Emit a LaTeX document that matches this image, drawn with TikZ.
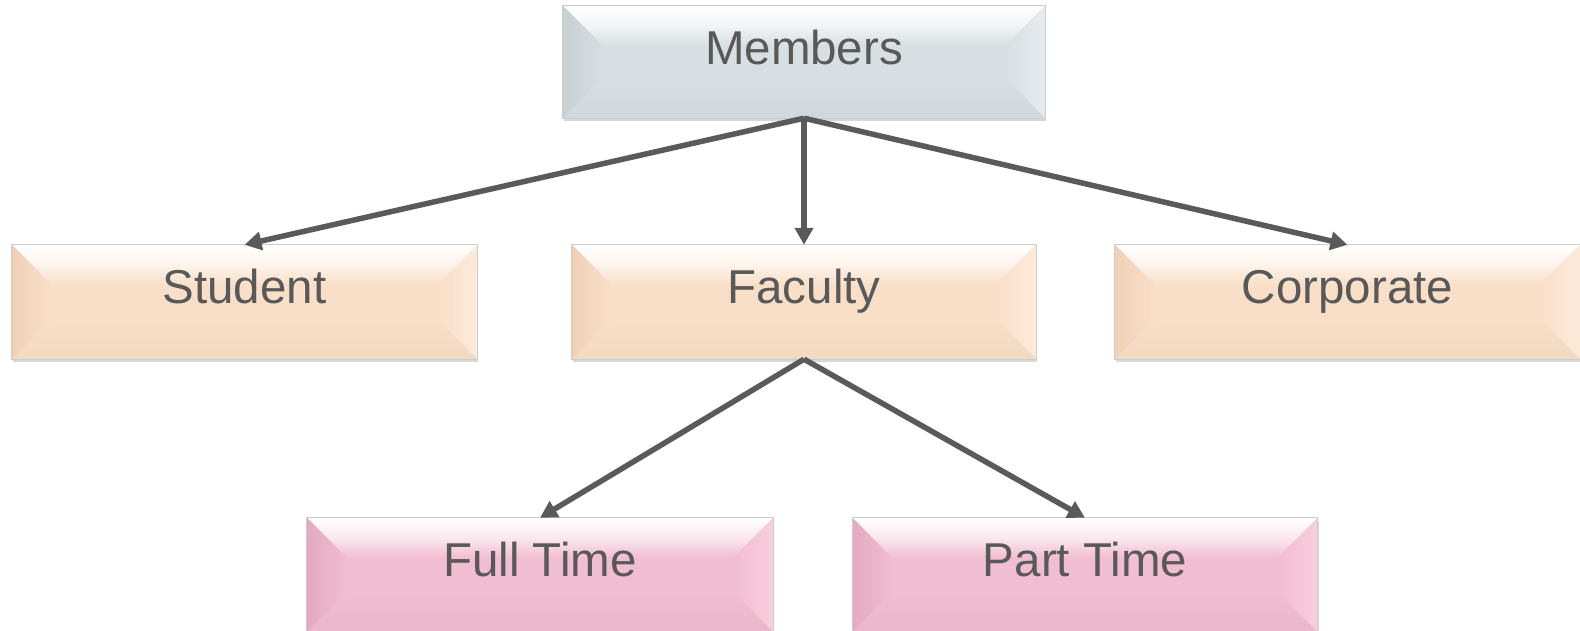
\documentclass[tikz,border=0pt]{standalone}
\usepackage{fontspec}
\setmainfont{Liberation Sans}
\usetikzlibrary{arrows.meta,shadows,calc}
\definecolor{txt}{HTML}{595959}
\definecolor{arr}{HTML}{5A5A5A}
\definecolor{mbase}{HTML}{D7DFE2}
\definecolor{mdark}{HTML}{C6CFD2}
\definecolor{mlight}{HTML}{E6ECEE}
\definecolor{pbase}{HTML}{F9DFC8}
\definecolor{pdark}{HTML}{F0D0B7}
\definecolor{plight}{HTML}{FDEAD9}
\definecolor{kbase}{HTML}{F1BDD0}
\definecolor{kdark}{HTML}{E4AABF}
\definecolor{klight}{HTML}{F8CEDD}
\tikzset{
  x=1pt, y=-1pt,
  boxshape/.style={rectangle, inner sep=0pt, draw=none,
    drop shadow={shadow xshift=1pt, shadow yshift=-3pt, opacity=0.3}},
  lbl/.style={text=txt, font=\fontsize{47.5}{57}\selectfont, inner sep=0pt},
  conn/.style={draw=arr, line width=5.5pt, -{Triangle[length=17pt,width=18pt]}},
  rim/.style={draw=black!20, line width=1.2pt}
}
\newcommand\bevelbox[9]{%
  \node[boxshape, fill=#6, minimum width=#4pt, minimum height=#5pt] (#1) at (#2,#3) {};
  \def\bv{40}
  \shade[top color=white, bottom color=#6, middle color=#6!35!white]
    (#1.north west) -- (#1.north east) -- ([shift={(-\bv pt,-\bv pt)}]#1.north east) -- ([shift={(\bv pt,-\bv pt)}]#1.north west) -- cycle;
  \shade[left color=#7, right color=#6]
    (#1.north west) -- ([shift={(\bv pt,-\bv pt)}]#1.north west) -- ([shift={(\bv pt,\bv pt)}]#1.south west) -- (#1.south west) -- cycle;
  \shade[left color=#6, right color=#8]
    (#1.north east) -- ([shift={(-\bv pt,-\bv pt)}]#1.north east) -- ([shift={(-\bv pt,\bv pt)}]#1.south east) -- (#1.south east) -- cycle;
  \shade[top color=#6, bottom color=#6!97!black]
    (#1.south west) -- ([shift={(\bv pt,\bv pt)}]#1.south west) -- ([shift={(-\bv pt,\bv pt)}]#1.south east) -- (#1.south east) -- cycle;
  \draw[rim] (#1.north west) rectangle (#1.south east);
  \node[lbl, anchor=base] (#1t) at ([yshift=-58.5pt]#1.north) {#9};
}
\begin{document}
\begin{tikzpicture}
\clip (0,0) rectangle (1580,631);
\fill[white] (0,0) rectangle (1580,631);
\bevelbox{m}{804}{62}{482}{112}{mbase}{mdark}{mlight}{Members}
\bevelbox{s}{244.5}{302}{465}{114}{pbase}{pdark}{plight}{Student}
\bevelbox{f}{804}{302}{464}{114}{pbase}{pdark}{plight}{Faculty}
\bevelbox{c}{1347.5}{302}{465}{114}{pbase}{pdark}{plight}{Corporate}
\bevelbox{ft}{540}{575}{466}{114}{kbase}{kdark}{klight}{Full Time}
\bevelbox{pt}{1085}{575}{465}{114}{kbase}{kdark}{klight}{Part Time}
\draw[conn] (m.south) -- (s.north);
\draw[conn] (m.south) -- (f.north);
\draw[conn] (m.south) -- (c.north);
\draw[conn] (f.south) -- (ft.north);
\draw[conn] (f.south) -- (pt.north);
\end{tikzpicture}
\end{document}
